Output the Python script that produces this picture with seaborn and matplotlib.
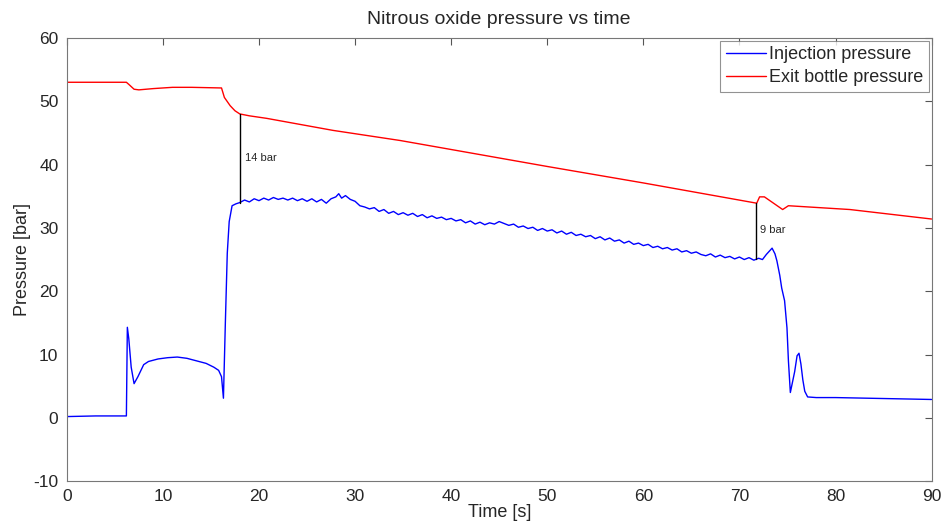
import numpy as np
import pandas as pd
import seaborn as sns
import matplotlib.pyplot as plt

# injection pressure (blue)
inj_t = [0, 3, 6.2, 6.3, 6.45, 6.7, 7.0, 7.4, 8.0, 8.5, 9.5, 10.5, 11.5, 12.5, 13.5, 14.5, 15.3, 15.8, 16.1, 16.3,
         16.5, 16.7, 16.9, 17.2, 17.6,
         18.0, 18.5, 19.0, 19.5, 20.0, 20.5, 21.0, 21.5, 22.0, 22.5, 23.0, 23.5, 24.0, 24.5, 25.0, 25.5, 26.0, 26.5,
         27.0, 27.5, 28.0, 28.3, 28.6, 29.0, 29.5, 30.0, 30.5, 31.0, 31.5, 32.0, 32.5, 33.0, 33.5, 34.0, 34.5, 35.0,
         35.5, 36.0, 36.5, 37.0, 37.5, 38.0, 38.5, 39.0, 39.5, 40.0, 40.5, 41.0, 41.5, 42.0, 42.5, 43.0, 43.5, 44.0,
         44.5, 45.0, 45.5, 46.0, 46.5, 47.0, 47.5, 48.0, 48.5, 49.0, 49.5, 50.0, 50.5, 51.0, 51.5, 52.0, 52.5, 53.0,
         53.5, 54.0, 54.5, 55.0, 55.5, 56.0, 56.5, 57.0, 57.5, 58.0, 58.5, 59.0, 59.5, 60.0, 60.5, 61.0, 61.5, 62.0,
         62.5, 63.0, 63.5, 64.0, 64.5, 65.0, 65.5, 66.0, 66.5, 67.0, 67.5, 68.0, 68.5, 69.0, 69.5, 70.0, 70.5, 71.0,
         71.5, 72.0, 72.4, 72.8, 73.1, 73.4, 73.7, 73.9, 74.2, 74.4, 74.7, 74.95, 75.1, 75.3, 75.5, 75.75, 76.0,
         76.2, 76.4, 76.6, 76.8, 77.1, 78.0, 80.0, 85.0, 90.0]
inj_p = [0.2, 0.3, 0.3, 14.3, 12.5, 8.0, 5.4, 6.5, 8.4, 8.9, 9.3, 9.5, 9.6, 9.4, 9.0, 8.6, 8.0, 7.5, 6.5, 3.1,
         15.0, 26.0, 31.0, 33.5, 33.8,
         34.0, 34.4, 34.1, 34.6, 34.3, 34.7, 34.4, 34.8, 34.5, 34.7, 34.4, 34.7, 34.3, 34.6, 34.2, 34.6, 34.1, 34.5,
         33.9, 34.6, 34.9, 35.4, 34.7, 35.1, 34.5, 34.2, 33.5, 33.3, 33.0, 33.2, 32.6, 32.9, 32.3, 32.6, 32.1, 32.4,
         32.0, 32.3, 31.8, 32.1, 31.6, 31.9, 31.5, 31.7, 31.3, 31.5, 31.1, 31.3, 30.8, 31.1, 30.6, 30.9, 30.5, 30.8,
         30.6, 31.0, 30.7, 30.4, 30.6, 30.1, 30.3, 29.9, 30.1, 29.6, 29.9, 29.5, 29.7, 29.2, 29.5, 29.0, 29.3, 28.8,
         29.0, 28.6, 28.8, 28.3, 28.6, 28.1, 28.4, 27.9, 28.1, 27.6, 27.9, 27.4, 27.6, 27.2, 27.4, 26.9, 27.1, 26.7,
         26.9, 26.5, 26.7, 26.2, 26.4, 26.0, 26.2, 25.8, 25.6, 25.9, 25.4, 25.7, 25.3, 25.5, 25.1, 25.4, 25.0, 25.3,
         24.9, 25.2, 25.0, 25.8, 26.3, 26.8, 25.9, 24.8, 22.5, 20.5, 18.5, 14.2, 9.0, 4.0, 5.5, 7.3, 9.8,
         10.2, 8.5, 6.0, 4.2, 3.3, 3.2, 3.2, 3.05, 2.9]

# exit bottle pressure (red)
exit_t = [0, 6.2, 6.5, 7.0, 7.5, 9.0, 11.0, 13.0, 16.1, 16.4, 17.0, 17.5, 18.0, 19.0, 20.8, 27.7, 34.7,
          50.0, 60.0, 71.8, 72.1, 72.6, 74.5, 75.1, 81.5, 90.0]
exit_p = [53.0, 53.0, 52.6, 51.9, 51.8, 52.0, 52.2, 52.2, 52.1, 50.6, 49.3, 48.5, 48.0, 47.7, 47.3, 45.4, 43.8,
          39.7, 37.1, 33.9, 34.9, 34.9, 32.9, 33.5, 32.9, 31.4]

series_names = ['Injection pressure', 'Exit bottle pressure']

df = pd.concat([
    pd.DataFrame({'Time': inj_t, 'Pressure': inj_p, 'series': series_names[0]}),
    pd.DataFrame({'Time': exit_t, 'Pressure': exit_p, 'series': series_names[1]}),
])

sns.set_style('white')
plt.rcParams['font.family'] = ['Liberation Sans', 'DejaVu Sans']
plt.rcParams['axes.unicode_minus'] = False

fig, ax = plt.subplots(figsize=(9.41, 5.27), dpi=100)
fig.subplots_adjust(left=0.071, right=0.990, bottom=0.087, top=0.928)

sns.lineplot(data=df, x='Time', y='Pressure', hue='series', hue_order=series_names,
             palette=['#0000ff', '#ff0000'], estimator=None, sort=False, lw=1.0, ax=ax)

# pressure-difference markers
ax.plot([18.0, 18.0], [34.0, 48.0], color='black', lw=1)
ax.text(18.5, 41, '14 bar', fontsize=8, va='center')
ax.plot([71.7, 71.7], [25.1, 33.9], color='black', lw=1)
ax.text(72.1, 29.7, '9 bar', fontsize=8, va='center')

ax.set_xlim(0, 90)
ax.set_ylim(-10, 60)
ax.set_xticks(range(0, 91, 10))
ax.set_yticks(range(-10, 61, 10))
ax.tick_params(direction='in', top=True, right=True, labelsize=12.5, length=5, color='#555555', pad=6)
for s in ax.spines.values():
    s.set_color('#777777')
    s.set_linewidth(0.8)

ax.set_title('Nitrous oxide pressure vs time', fontsize=14, pad=10)
ax.set_xlabel('Time [s]', fontsize=13, labelpad=0)
ax.set_ylabel('Pressure [bar]', fontsize=13, labelpad=2)

leg = ax.legend(loc='upper right', fontsize=13, frameon=True, fancybox=False,
                handlelength=2.2, handletextpad=0.2, borderaxespad=0.15, borderpad=0.3, labelspacing=0.35)
leg.get_frame().set_edgecolor('#777777')
leg.get_frame().set_linewidth(0.8)

plt.savefig('out.png', dpi=100)
